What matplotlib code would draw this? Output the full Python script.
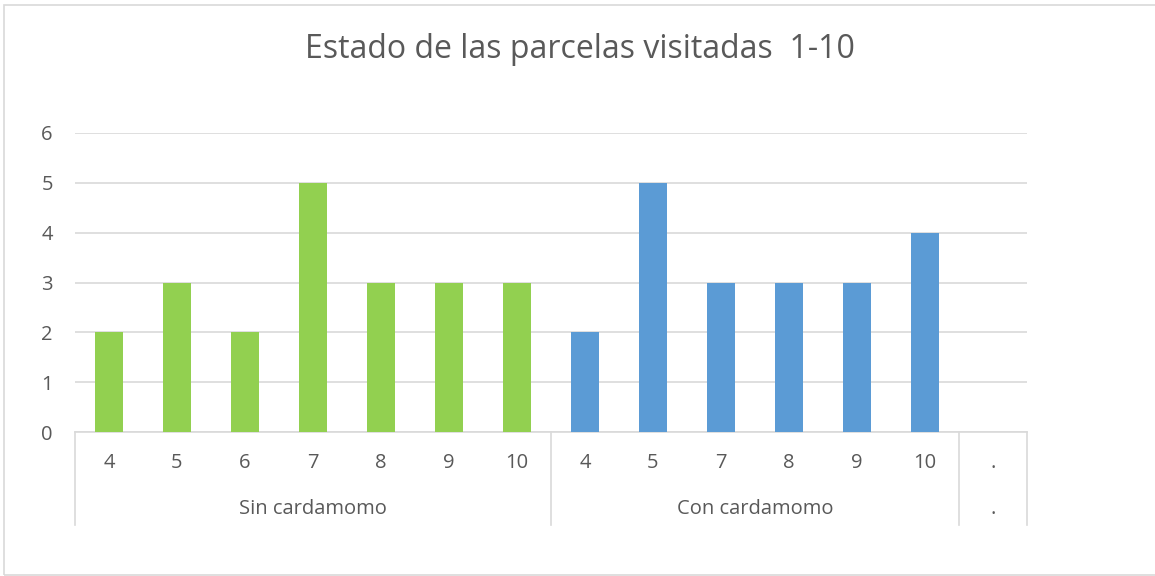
import matplotlib
matplotlib.use("Agg")
import matplotlib.pyplot as plt
from matplotlib.lines import Line2D
from matplotlib.patches import Rectangle

plt.rcParams['font.family'] = ['Open Sans', 'DejaVu Sans']

title = "Estado de las parcelas visitadas  1-10"
groups = ["Sin cardamomo", "Con cardamomo", "."]
sin_labels = ["4", "5", "6", "7", "8", "9", "10"]
sin_values = [2, 3, 2, 5, 3, 3, 3]
con_labels = ["4", "5", "7", "8", "9", "10"]
con_values = [2, 5, 3, 3, 3, 4]
extra_labels = ["."]
green = "#92D050"
blue = "#5B9BD5"
text_col = "#595959"
grid_col = "#D9D9D9"

W, H = 1155, 576
fig = plt.figure(figsize=(W / 100, H / 100), dpi=100)
fig.patches.append(Rectangle((4 / W, 1 / H), 1160 / W, 570 / H, transform=fig.transFigure,
                             fill=False, edgecolor=grid_col, linewidth=1.2))

x0, x1 = 75, 1027
yb, yt = 432, 133
ax = fig.add_axes([x0 / W, (H - yb) / H, (x1 - x0) / W, (yb - yt) / H])

n_sin = len(sin_labels)
n_con = len(con_labels)
xs_sin = list(range(n_sin))
xs_con = list(range(n_sin, n_sin + n_con))
x_extra = n_sin + n_con
ax.bar(xs_sin, sin_values, width=0.41, color=green, zorder=3)
ax.bar(xs_con, con_values, width=0.41, color=blue, zorder=3)

ax.set_xlim(-0.5, x_extra + 0.5)
ax.set_ylim(0, 6)
ax.set_yticks(range(0, 7))
ax.yaxis.grid(True, color=grid_col, linewidth=1.2, zorder=0)
ax.tick_params(axis='y', length=0, pad=16, labelsize=14.5, labelcolor=text_col)
ax.set_xticks([])
for s in ['top', 'right', 'left']:
    ax.spines[s].set_visible(False)
ax.spines['bottom'].set_color(grid_col)
ax.spines['bottom'].set_linewidth(1.2)

trans = ax.get_xaxis_transform()
axh = (yb - yt)
def yax(py):
    return (yb - py) / axh

all_labels = sin_labels + con_labels + extra_labels
for i, lab in enumerate(all_labels):
    ax.text(i, yax(463), lab, transform=trans, ha='center', va='center',
            fontsize=14.5, color=text_col, clip_on=False)

group_centers = [(n_sin - 1) / 2, n_sin + (n_con - 1) / 2, x_extra]
for c, g in zip(group_centers, groups):
    ax.text(c, yax(509), g, transform=trans, ha='center', va='center',
            fontsize=14.5, color=text_col, clip_on=False)

for b in [-0.5, n_sin - 0.5, n_sin + n_con - 0.5, x_extra + 0.5]:
    ax.add_line(Line2D([b, b], [0, yax(525)], transform=trans, color=grid_col,
                       linewidth=1.2, clip_on=False))

fig.text(580 / W, (H - 50) / H, title, ha='center', va='center', fontsize=23,
         color=text_col)

fig.savefig("out.png", dpi=100)
